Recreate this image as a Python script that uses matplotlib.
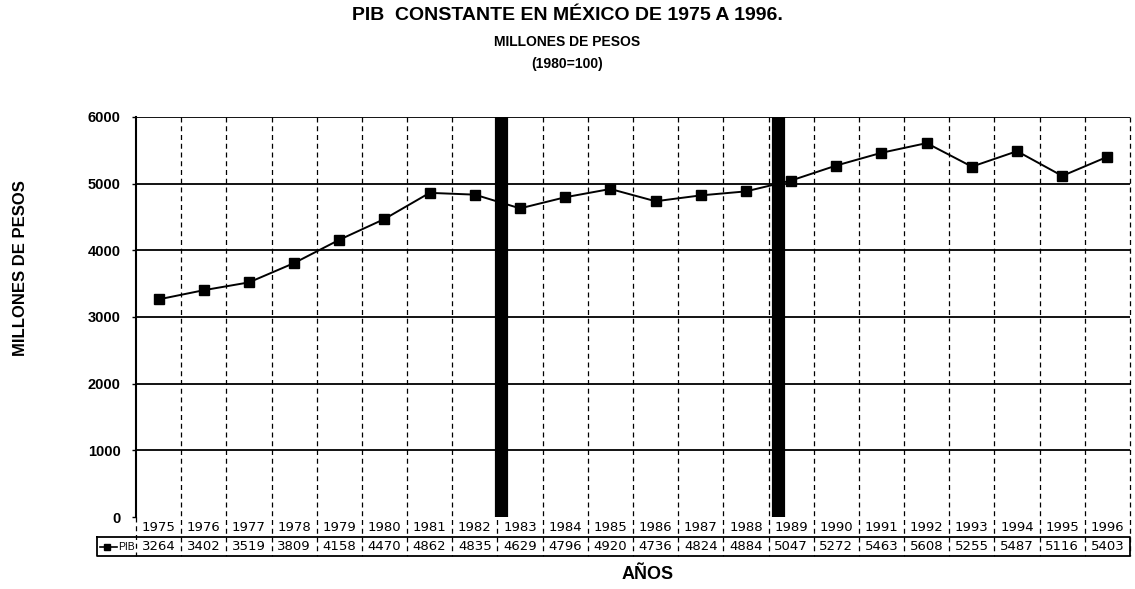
import matplotlib.pyplot as plt
import matplotlib.transforms as mtransforms

years = list(range(1975, 1997))
pib = [3264, 3402, 3519, 3809, 4158, 4470, 4862, 4835, 4629, 4796, 4920,
       4736, 4824, 4884, 5047, 5272, 5463, 5608, 5255, 5487, 5116, 5403]
yticks = [0, 1000, 2000, 3000, 4000, 5000, 6000]
# thick black markers between periods (positions in category units)
breaks = [7.57, 13.71]

plt.rcParams['font.family'] = ['Liberation Sans', 'DejaVu Sans']

fig = plt.figure(figsize=(11.35, 5.89), dpi=100)
ax = fig.add_axes([0.1198, 0.1222, 0.8758, 0.6792])

x = list(range(len(years)))
ax.plot(x, pib, color='black', lw=1.4, marker='s', ms=7, zorder=3)
ax.set_xlim(-0.5, len(years) - 0.5)
ax.set_ylim(0, 6000)
ax.set_yticks(yticks)
ax.set_yticklabels([str(t) for t in yticks], fontweight='bold', fontsize=10.5)
ax.tick_params(axis='y', length=3, width=1, pad=8)
ax.set_xticks([])

for t in yticks[1:]:
    ax.axhline(t, color='black', lw=1.3, zorder=1)
for spine in ['right', 'bottom', 'top']:
    ax.spines[spine].set_visible(False)
ax.spines['left'].set_linewidth(1.5)

for b in breaks:
    ax.axvline(b, color='black', lw=9.5, zorder=4)

# table under the plot
trans = mtransforms.blended_transform_factory(ax.transData, ax.transAxes)
h_px = ax.get_position().height * fig.get_figheight() * fig.dpi
def ay(px):
    return -px / h_px

row1_bot = ay(20)
row2_bot = ay(39)
dash = (0, (4, 3))

for i in range(len(years) + 1):
    xb = i - 0.5
    y_top = 0 if i == 0 else 1.0
    ax.plot([xb, xb], [y_top, row2_bot], transform=trans, color='black',
            lw=0.9, ls=dash, clip_on=False, zorder=2)

for i, (yr, v) in enumerate(zip(years, pib)):
    ax.text(i, ay(10), str(yr), transform=trans, ha='center', va='center',
            fontsize=9.5, family=['DejaVu Sans'])
    ax.text(i, ay(29.5), str(v), transform=trans, ha='center', va='center',
            fontsize=9.5, family=['DejaVu Sans'])

# outer box of value row, including legend cell
ax_left_px = ax.get_position().x0 * fig.get_figwidth() * fig.dpi
w_px = ax.get_position().width * fig.get_figwidth() * fig.dpi
leg_left = -(ax_left_px - 97) / w_px
px = 1 / w_px
ta = ax.transAxes
ax.plot([leg_left, 1, 1, leg_left, leg_left], [row1_bot, row1_bot, row2_bot, row2_bot, row1_bot],
        transform=ta, color='black', lw=1.3, clip_on=False)
ax.plot([leg_left + 3 * px, leg_left + 20 * px], [ay(29.5)] * 2, transform=ta,
        color='black', lw=1.2, clip_on=False)
ax.plot([leg_left + 10 * px], [ay(29.5)], transform=ta, marker='s', ms=5,
        color='black', clip_on=False)
ax.text(leg_left + 21 * px, ay(29.5), 'PIB', transform=ta, ha='left', va='center',
        fontsize=7.5)

fig.text(0.5, 0.974, 'PIB  CONSTANTE EN MÉXICO DE 1975 A 1996.', ha='center',
         va='center', fontsize=14, fontweight='bold')
fig.text(0.5, 0.929, 'MILLONES DE PESOS', ha='center', va='center',
         fontsize=10, fontweight='bold')
fig.text(0.5, 0.891, '(1980=100)', ha='center', va='center',
         fontsize=10, fontweight='bold')
fig.text(0.018, 0.545, 'MILLONES DE PESOS', ha='center', va='center',
         rotation=90, fontsize=12, fontweight='bold')
fig.text(0.571, 0.024, 'AÑOS', ha='center', va='center',
         fontsize=13, fontweight='bold')

fig.savefig('out.png', dpi=100)
